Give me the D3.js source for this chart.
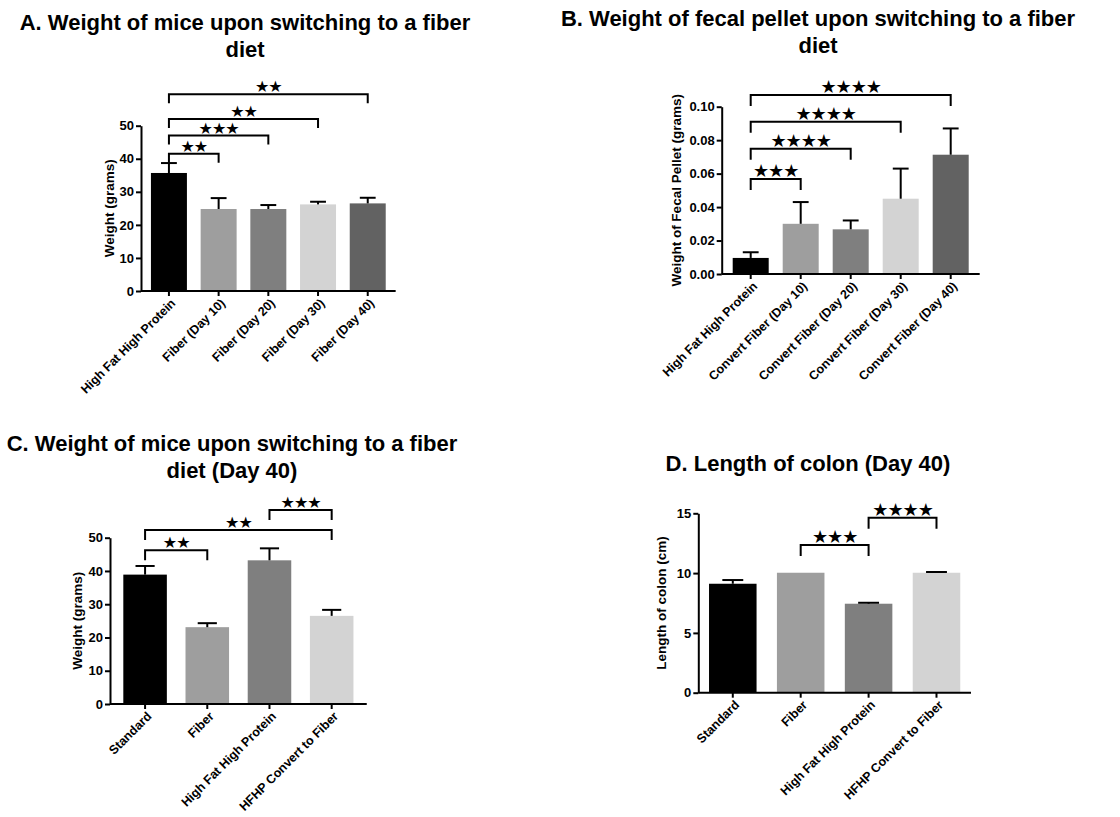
<!DOCTYPE html>
<html>
<head>
<meta charset="utf-8">
<script src="https://cdn.jsdelivr.net/npm/d3@7"></script>
<style>
  body { margin: 0; background: #fff; }
  svg { font-family: "Liberation Sans", Arial, sans-serif; }
  .title { font-size: 22px; font-weight: bold; }
  .tick text { font-weight: bold; }
  .stars { font-family: "DejaVu Sans", sans-serif; }
</style>
</head>
<body>
<svg id="chart" width="1120" height="817"></svg>
<script>
// ---- dati ----
const catsA = ["High Fat High Protein", "Fiber (Day 10)", "Fiber (Day 20)", "Fiber (Day 30)", "Fiber (Day 40)"];
const meanA = [35.7, 24.8, 24.8, 26.2, 26.5];
const errA = [38.7, 28.1, 26.0, 27.0, 28.2];
const sigA = [
  { from: 0, to: 1, y: 41.5, label: "**" },
  { from: 0, to: 2, y: 47, label: "***" },
  { from: 0, to: 3, y: 52, label: "**" },
  { from: 0, to: 4, y: 59.5, label: "**" }
];

const catsB = ["High Fat High Protein", "Convert Fiber (Day 10)", "Convert Fiber (Day 20)", "Convert Fiber (Day 30)", "Convert Fiber (Day 40)"];
const meanB = [0.0096, 0.030, 0.0267, 0.045, 0.0713];
const errB = [0.013, 0.043, 0.032, 0.063, 0.087];
const sigB = [
  { from: 0, to: 1, y: 0.0568, label: "***" },
  { from: 0, to: 2, y: 0.0749, label: "****" },
  { from: 0, to: 3, y: 0.091, label: "****" },
  { from: 0, to: 4, y: 0.107, label: "****" }
];

const catsC = ["Standard", "Fiber", "High Fat High Protein", "HFHP Convert to Fiber"];
const meanC = [38.9, 23.1, 43.2, 26.5];
const errC = [41.5, 24.3, 46.8, 28.3];
const sigC = [
  { from: 0, to: 1, y: 46.2, label: "**" },
  { from: 0, to: 3, y: 52.3, label: "**" },
  { from: 2, to: 3, y: 58.3, label: "***" }
];

const catsD = ["Standard", "Fiber", "High Fat High Protein", "HFHP Convert to Fiber"];
const meanD = [9.11, 10.03, 7.44, 10.03];
const errD = [9.42, 10.03, 7.52, 10.09];
const sigD = [
  { from: 1, to: 2, y: 12.35, label: "***" },
  { from: 2, to: 3, y: 14.63, label: "****" }
];

const grays = ["#000000", "#9e9e9e", "#7f7f7f", "#d3d3d3", "#626262"];

const svg = d3.select("#chart");
svg.append("rect").attr("width", 1120).attr("height", 817).attr("fill", "#fff");

function drawPanel(p) {
  const g = svg.append("g");

  // titolo su una o due righe
  p.title.forEach((line, i) => {
    g.append("text")
      .attr("class", "title")
      .attr("x", p.titleX)
      .attr("y", p.titleY + i * 27)
      .attr("text-anchor", "middle")
      .text(line);
  });

  const n = p.cats.length;
  const x = d3.scaleBand()
    .domain(p.cats)
    .range([p.axisX, p.axisX + p.step * (n - p.padIn + 2 * p.padOut)])
    .paddingInner(p.padIn)
    .paddingOuter(p.padOut);

  const y = d3.scaleLinear()
    .domain([0, p.yMax])
    .range([p.y0, p.yTop]);

  // barre
  g.selectAll(".bar")
    .data(p.means)
    .enter()
    .append("rect")
    .attr("class", "bar")
    .attr("x", (d, i) => x(p.cats[i]))
    .attr("y", d => y(d))
    .attr("width", x.bandwidth())
    .attr("height", d => p.y0 - y(d))
    .attr("fill", (d, i) => grays[i]);

  // barre di errore (solo verso l'alto)
  const cap = x.bandwidth() * 0.22;
  p.errs.forEach((e, i) => {
    if (e <= p.means[i]) return;
    const cx = x(p.cats[i]) + x.bandwidth() / 2;
    g.append("line")
      .attr("x1", cx).attr("x2", cx)
      .attr("y1", y(p.means[i])).attr("y2", y(e))
      .attr("stroke", "#000").attr("stroke-width", 2);
    g.append("line")
      .attr("x1", cx - cap).attr("x2", cx + cap)
      .attr("y1", y(e)).attr("y2", y(e))
      .attr("stroke", "#000").attr("stroke-width", 2);
  });

  // assi
  const yAxis = g.append("g")
    .attr("transform", `translate(${p.axisX},0)`)
    .call(d3.axisLeft(y).tickValues(p.ticks).tickFormat(p.fmt).tickSize(5).tickSizeOuter(0));
  yAxis.selectAll("path, line").attr("stroke-width", 2);
  yAxis.selectAll("text").style("font-size", "13px").attr("x", -7);

  const xAxis = g.append("g")
    .attr("transform", `translate(0,${p.y0})`)
    .call(d3.axisBottom(x).tickSize(5).tickSizeOuter(0));
  xAxis.select(".domain").attr("d", `M${p.axisX},0H${x.range()[1]}`);
  xAxis.selectAll("path, line").attr("stroke-width", 2);
  xAxis.selectAll("text")
    .style("font-size", "12.5px")
    .style("text-anchor", "end")
    .attr("x", -4)
    .attr("y", 10)
    .attr("dy", "0.35em")
    .attr("transform", "rotate(-45)");

  g.append("text")
    .attr("transform", `translate(${p.labelX},${(p.y0 + p.yTop) / 2}) rotate(-90)`)
    .attr("text-anchor", "middle")
    .style("font-size", "13.5px")
    .style("font-weight", "bold")
    .text(p.yLabel);

  // parentesi di significatività
  p.sig.forEach(s => {
    const x1 = x(p.cats[s.from]) + x.bandwidth() / 2;
    const x2 = x(p.cats[s.to]) + x.bandwidth() / 2;
    const yy = y(s.y);
    g.append("path")
      .attr("d", `M${x1},${yy + p.leg}V${yy}H${x2}V${yy + p.leg}`)
      .attr("fill", "none")
      .attr("stroke", "#000")
      .attr("stroke-width", 2);
    g.append("text")
      .attr("class", "stars")
      .attr("x", (x1 + x2) / 2)
      .attr("y", yy - 2)
      .attr("text-anchor", "middle")
      .style("font-size", p.starSize + "px")
      .style("letter-spacing", "-1px")
      .text(s.label.replace(/\*/g, "\u2605"));
  });
}

drawPanel({
  title: ["A. Weight of mice upon switching to a fiber", "diet"], titleX: 245, titleY: 30,
  cats: catsA, means: meanA, errs: errA, sig: sigA,
  axisX: 141, y0: 291, yTop: 125.7, yMax: 50, ticks: [0, 10, 20, 30, 40, 50], fmt: d3.format("d"),
  step: 49.7, padIn: 0.276, padOut: 0.2, leg: 9, starSize: 16,
  yLabel: "Weight (grams)", labelX: 114
});

drawPanel({
  title: ["B. Weight of fecal pellet upon switching to a fiber", "diet"], titleX: 818, titleY: 26,
  cats: catsB, means: meanB, errs: errB, sig: sigB,
  axisX: 721.7, y0: 274, yTop: 106.7, yMax: 0.10, ticks: [0, 0.02, 0.04, 0.06, 0.08, 0.10], fmt: d3.format(".2f"),
  step: 50, padIn: 0.28, padOut: 0.22, leg: 11, starSize: 18,
  yLabel: "Weight of Fecal Pellet (grams)", labelX: 681
});

drawPanel({
  title: ["C. Weight of mice upon switching to a fiber", "diet (Day 40)"], titleX: 232, titleY: 451,
  cats: catsC, means: meanC, errs: errC, sig: sigC,
  axisX: 110, y0: 704, yTop: 537.7, yMax: 50, ticks: [0, 10, 20, 30, 40, 50], fmt: d3.format("d"),
  step: 62.2, padIn: 0.30, padOut: 0.214, leg: 10, starSize: 16,
  yLabel: "Weight (grams)", labelX: 82
});

drawPanel({
  title: ["D. Length of colon (Day 40)"], titleX: 808, titleY: 471,
  cats: catsD, means: meanD, errs: errD, sig: sigD,
  axisX: 698.3, y0: 692.7, yTop: 513.3, yMax: 15, ticks: [0, 5, 10, 15], fmt: d3.format("d"),
  step: 67.9, padIn: 0.30, padOut: 0.158, leg: 11, starSize: 18,
  yLabel: "Length of colon (cm)", labelX: 666
});
</script>
</body>
</html>
